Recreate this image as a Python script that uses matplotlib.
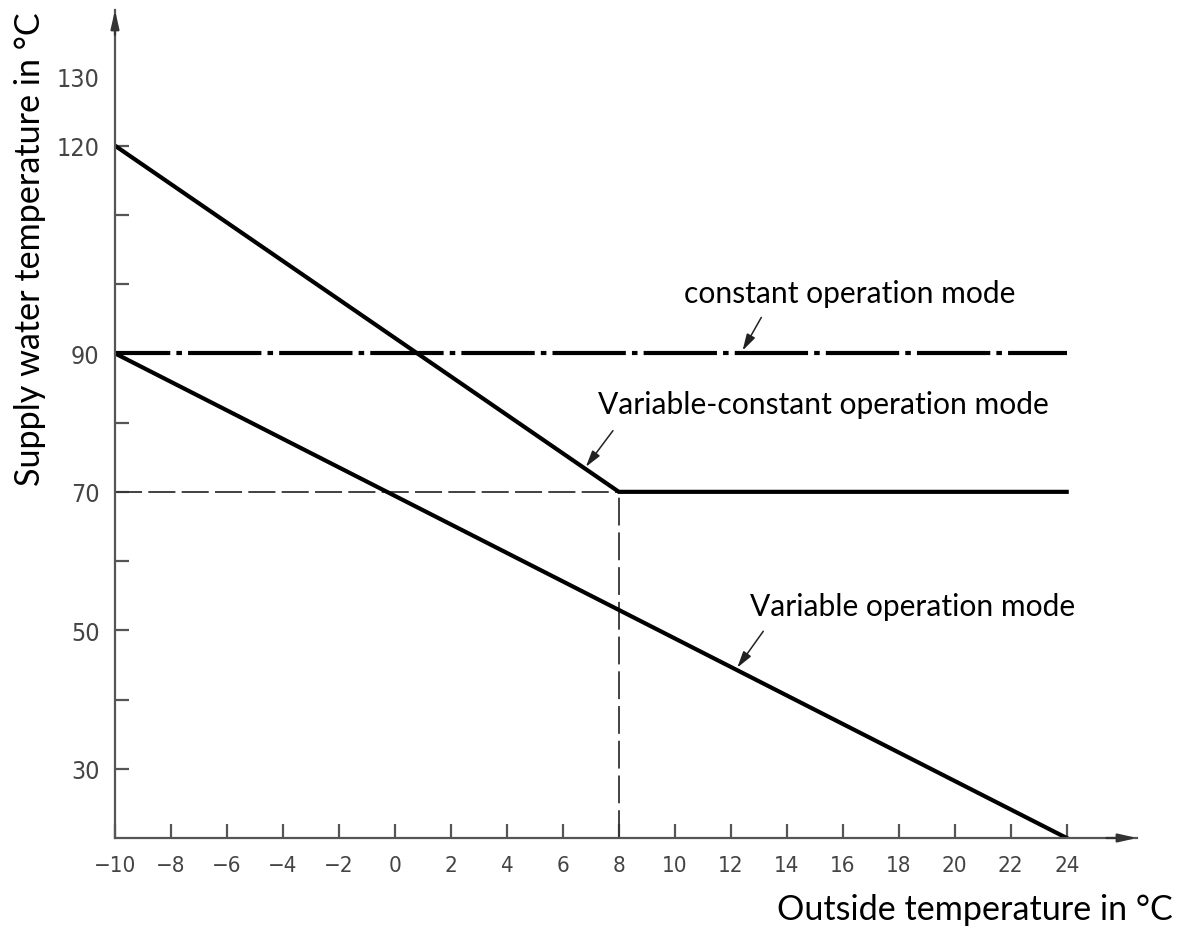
import matplotlib
matplotlib.use("Agg")
import matplotlib.pyplot as plt

# ---- data ----
x_ticks = [-10, -8, -6, -4, -2, 0, 2, 4, 6, 8, 10, 12, 14, 16, 18, 20, 22, 24]
y_major = [30, 50, 70, 90, 120, 130]
y_minor = [40, 60, 80, 100, 110]

variable_x = [-10, 24]
variable_y = [90, 20]

varconst_x = [-10, 8, 24]
varconst_y = [120, 70, 70]

constant_x = [-10, 24]
constant_y = [90, 90]

guide_h_x = [-10, 8]
guide_h_y = [70, 70]
guide_v_x = [8, 8]
guide_v_y = [20, 70]

labels = ["constant operation mode", "Variable-constant operation mode", "Variable operation mode"]
label_pos = [(16.23, 97.4), (15.32, 81.45), (18.51, 52.17)]
arrow_tail = [(13.09, 95.2), (7.79, 78.84), (13.16, 49.86)]
arrow_tip = [(12.42, 90.4), (6.82, 73.6), (12.23, 44.6)]

xlabel = "Outside temperature in °C"
ylabel = "Supply water temperature in °C"

# ---- style ----
plt.rcParams['lines.scale_dashes'] = False
TEXT_FONT = ['Lato', 'DejaVu Sans']
TICK_FONT = ['DejaVu Sans']
AX_COLOR = '#555555'

fig = plt.figure(figsize=(11.82, 9.29), dpi=100)
ax = fig.add_axes([0.09729, 0.09688, 0.8646, 0.8913])
ax.set_xlim(-10, 26.51)
ax.set_ylim(20, 139.6)

for s in ['top', 'right']:
    ax.spines[s].set_visible(False)
for s in ['left', 'bottom']:
    ax.spines[s].set_color(AX_COLOR)
    ax.spines[s].set_linewidth(1.6)

# axis arrowheads
ax.annotate('', xy=(1.0, 0), xytext=(0.97, 0), xycoords='axes fraction',
            arrowprops=dict(arrowstyle='-|>,head_length=1.1,head_width=0.25',
                            color='#333333', lw=1.6, shrinkA=0, shrinkB=0),
            annotation_clip=False)
ax.annotate('', xy=(0, 1.0), xytext=(0, 0.97), xycoords='axes fraction',
            arrowprops=dict(arrowstyle='-|>,head_length=1.1,head_width=0.25',
                            color='#333333', lw=1.6, shrinkA=0, shrinkB=0),
            annotation_clip=False)

# ticks
ax.set_xticks(x_ticks)
ax.set_xticklabels([str(v) if v >= 0 else '\u2212' + str(-v) for v in x_ticks],
                   fontfamily=TICK_FONT, fontstretch='condensed', fontsize=16,
                   color='#444444')
ax.set_yticks(y_major)
ax.set_yticks(y_minor, minor=True)
ax.set_yticklabels([str(v) for v in y_major], fontfamily=TICK_FONT,
                   fontstretch='condensed', fontsize=18, color='#444444')
ax.tick_params(axis='x', direction='in', length=10, width=1.6, color=AX_COLOR, pad=12)
ax.tick_params(axis='y', which='both', direction='in', length=10, width=1.6,
               color=AX_COLOR, pad=11)
ax.yaxis.get_major_ticks()[-1].tick1line.set_visible(False)

# guide lines
ax.plot(guide_h_x, guide_h_y, color='#333333', lw=1.3, linestyle=(0, (19.5, 4.5)))
ax.plot(guide_v_x, guide_v_y, color='#333333', lw=1.3, linestyle=(0, (20, 5)))

# main lines
ax.plot(constant_x, constant_y, color='black', lw=3.0,
        linestyle=(13, (52.8, 4.4, 4.0, 4.4)), solid_capstyle='butt', dash_capstyle='butt')
ax.plot(varconst_x, varconst_y, color='black', lw=3.0, solid_joinstyle='miter')
ax.plot(variable_x, variable_y, color='black', lw=3.0)

# annotations
for txt, (tx, ty), tail, tip in zip(labels, label_pos, arrow_tail, arrow_tip):
    ax.text(tx, ty, txt, ha='center', va='baseline', fontsize=21.6,
            fontfamily=TEXT_FONT, color='black')
    ax.annotate('', xy=tip, xytext=tail,
                arrowprops=dict(arrowstyle='-|>,head_length=1.0,head_width=0.28',
                                color='#222222', lw=1.1, shrinkA=0, shrinkB=0))

fig.text(975 / 1182, 1 - 920 / 929, xlabel, ha='center', va='baseline',
         fontsize=24.6, fontfamily=TEXT_FONT, color='black')
fig.text(40 / 1182, 1 - 249 / 929, ylabel, ha='center', va='baseline', rotation=90,
         rotation_mode='anchor', fontsize=24.6, fontfamily=TEXT_FONT, color='black')

fig.savefig('out.png', dpi=100)
